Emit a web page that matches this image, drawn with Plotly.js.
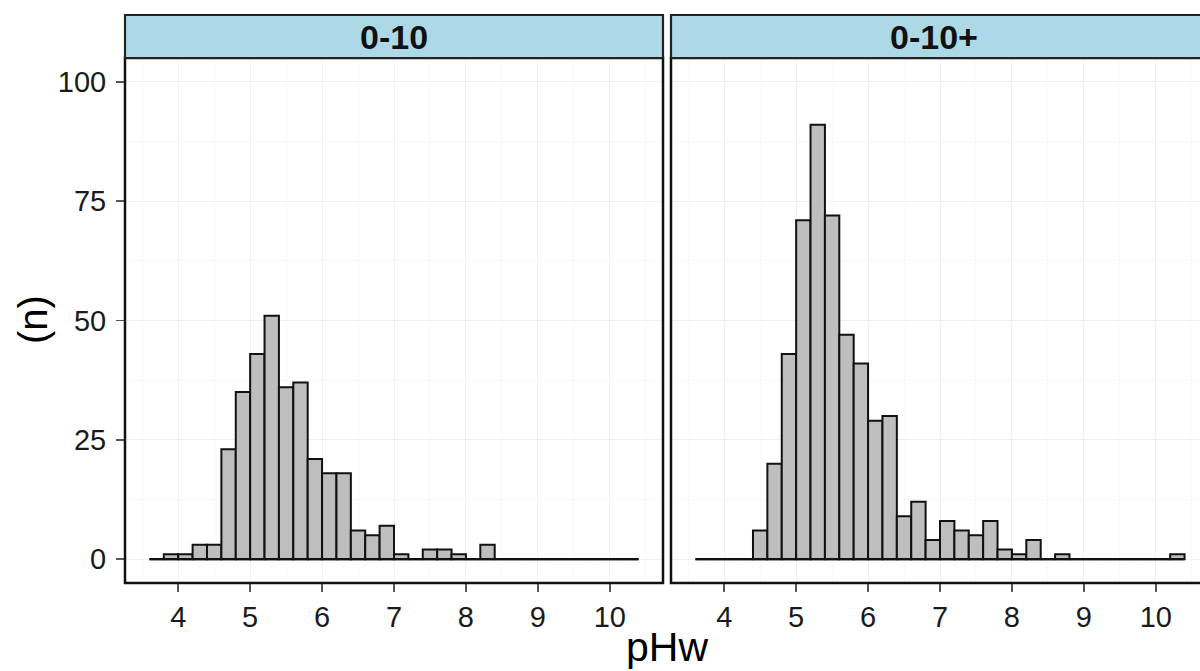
<!DOCTYPE html>
<html>
<head>
<meta charset="utf-8">
<script src="https://cdn.plot.ly/plotly-3.0.1.min.js"></script>
<style>html,body{margin:0;padding:0;background:#fff;}#chart{width:1200px;height:671px;}</style>
</head>
<body>
<div id="chart"></div>
<script>
// ---- data ----
const panels = ["0-10", "0-10+"];
const binStart = 3.6;
const binWidth = 0.2;
// counts per 0.2-wide pHw bin starting at 3.6 (34 bins, up to 10.4)
const counts_0_10 = [0, 1, 1, 3, 3, 23, 35, 43, 51, 36, 37, 21, 18, 18, 6, 5, 7, 1, 0, 2, 2, 1, 0, 3,
                     0, 0, 0, 0, 0, 0, 0, 0, 0, 0];
const counts_0_10plus = [0, 0, 0, 0, 6, 20, 43, 71, 91, 72, 47, 41, 29, 30, 9, 12, 4, 8, 6, 5, 8, 2, 1, 4,
                         0, 1, 0, 0, 0, 0, 0, 0, 0, 1];
const xTicks = [4, 5, 6, 7, 8, 9, 10];
const yTicks = [0, 25, 50, 75, 100];
const xTitle = "pHw";
const yTitle = "(n)";

// ---- derived ----
const centers = counts_0_10.map((_, i) => +(binStart + binWidth * (i + 0.5)).toFixed(3));
const binEnd = +(binStart + binWidth * counts_0_10.length).toFixed(3);

const FONT = "Liberation Sans, Arial, Helvetica, sans-serif";
const barFill = "#bebebe";
const barLine = "#111";

// pixel geometry (1200 x 671)
const W = 1200, H = 671;
const mL = 125, mR = 0, mT = 58, mB = 88;
const plotW = W - mL - mR, plotH = H - mT - mB;
const panelW = 538;
const leftEnd = panelW / plotW;
const rightStart = (671 - mL) / plotW;
const rightEndFull = rightStart + panelW / plotW;
const xMin = 3.26, xMax = 10.74;
const pxPerUnit = panelW / (xMax - xMin);
const xMax2 = xMin + (W - 671) / pxPerUnit;
const stripH = 43 / plotH;

function barTrace(counts, xa, ya) {
  return {
    type: "bar", x: centers, y: counts, width: binWidth,
    xaxis: xa, yaxis: ya,
    marker: { color: barFill, line: { color: barLine, width: 2 } },
    hoverinfo: "x+y", showlegend: false
  };
}
function baseTrace(xa, ya) {
  return {
    type: "scatter", mode: "lines", x: [binStart, binEnd], y: [0, 0],
    xaxis: xa, yaxis: ya, line: { color: barLine, width: 2.2 },
    hoverinfo: "skip", showlegend: false
  };
}

const data = [
  barTrace(counts_0_10, "x", "y"), baseTrace("x", "y"),
  barTrace(counts_0_10plus, "x2", "y2"), baseTrace("x2", "y2")
];

const axX = {
  tickmode: "array", tickvals: xTicks, ticktext: xTicks.map(String),
  ticks: "outside", ticklen: 8, tickwidth: 1.5, tickcolor: "#555",
  tickfont: { family: FONT, size: 29, color: "#1a1a1a" },
  showgrid: true, gridcolor: "#f0f0f0", gridwidth: 1,
  minor: { dtick: 0.5, showgrid: true, gridcolor: "#f8f8f8", gridwidth: 1 },
  zeroline: false, showline: false, fixedrange: true
};
const axY = {
  range: [-5, 105],
  tickmode: "array", tickvals: yTicks, ticktext: yTicks.map(String),
  ticks: "outside", ticklen: 8, tickwidth: 1.5, tickcolor: "#555",
  tickfont: { family: FONT, size: 29, color: "#1a1a1a" },
  ticklabelstandoff: 4,
  showgrid: true, gridcolor: "#f0f0f0", gridwidth: 1,
  minor: { dtick: 12.5, showgrid: true, gridcolor: "#f8f8f8", gridwidth: 1 },
  zeroline: false, showline: false, fixedrange: true
};

const layout = {
  width: W, height: H,
  margin: { l: mL, r: mR, t: mT, b: mB, pad: 0 },
  paper_bgcolor: "#fff", plot_bgcolor: "#fff",
  bargap: 0, showlegend: false,
  font: { family: FONT, color: "#000" },
  xaxis: Object.assign({}, axX, { domain: [0, leftEnd], range: [xMin, xMax], anchor: "y" }),
  xaxis2: Object.assign({}, axX, { domain: [rightStart, 1], range: [xMin, xMax2], anchor: "y2" }),
  yaxis: Object.assign({}, axY, { domain: [0, 1], anchor: "x" }),
  yaxis2: Object.assign({}, axY, { domain: [0, 1], anchor: "x2", matches: "y", showticklabels: false, ticks: "" }),
  shapes: [
    // panel borders
    { type: "rect", xref: "paper", yref: "paper", x0: 0, x1: leftEnd, y0: 0, y1: 1, line: { color: "#111", width: 2.5 }, layer: "above" },
    { type: "rect", xref: "paper", yref: "paper", x0: rightStart, x1: rightEndFull, y0: 0, y1: 1, line: { color: "#111", width: 2.5 }, layer: "above" },
    // strips
    { type: "rect", xref: "paper", yref: "paper", x0: 0, x1: leftEnd, y0: 1, y1: 1 + stripH, fillcolor: "#add8e6", line: { color: "#222", width: 2.2 }, layer: "above" },
    { type: "rect", xref: "paper", yref: "paper", x0: rightStart, x1: rightEndFull, y0: 1, y1: 1 + stripH, fillcolor: "#add8e6", line: { color: "#222", width: 2.2 }, layer: "above" }
  ],
  annotations: [
    { text: "<b>" + panels[0] + "</b>", xref: "paper", yref: "paper", x: leftEnd / 2, y: 1 + stripH / 2, xanchor: "center", yanchor: "middle", showarrow: false, font: { family: FONT, size: 34, color: "#111" } },
    { text: "<b>" + panels[1] + "</b>", xref: "paper", yref: "paper", x: (rightStart + rightEndFull) / 2 - 6 / plotW, y: 1 + stripH / 2, xanchor: "center", yanchor: "middle", showarrow: false, font: { family: FONT, size: 34, color: "#111" } },
    { text: xTitle, xref: "paper", yref: "paper", x: rightEndFull / 2, y: -(647 - (H - mB)) / plotH, xanchor: "center", yanchor: "middle", showarrow: false, font: { family: FONT, size: 41, color: "#000" } },
    { text: yTitle, xref: "paper", yref: "paper", x: (33 - mL) / plotW, y: ((H - mB) - 320) / plotH, xanchor: "center", yanchor: "middle", textangle: -90, showarrow: false, font: { family: FONT, size: 40, color: "#000" } }
  ]
};

Plotly.newPlot("chart", data, layout, { displayModeBar: false, staticPlot: true });
</script>
</body>
</html>
